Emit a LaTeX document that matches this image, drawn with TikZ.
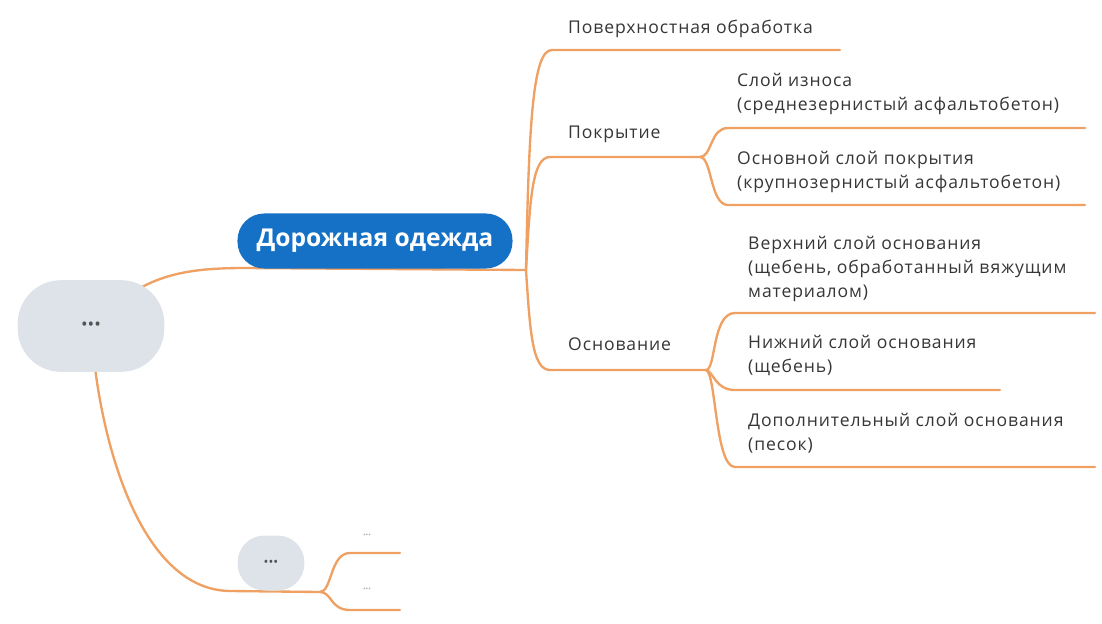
\documentclass[tikz,border=0pt]{standalone}
\usepackage{fontspec}
\setmainfont{Open Sans}
\usetikzlibrary{positioning,backgrounds}
\definecolor{branch}{HTML}{EFA063}
\definecolor{topicblue}{HTML}{1571C6}
\definecolor{bubble}{HTML}{DEE2E9}
\definecolor{ink}{HTML}{363636}
\definecolor{faint}{HTML}{A8A8A8}

\begin{document}
\begin{tikzpicture}[x=0.03cm,y=-0.03cm,
  link/.style={draw=branch,line width=2pt,line cap=round},
  leaf/.style={anchor=north west,inner sep=0pt,align=left,text=ink,font=\fontsize{15}{20.5}\selectfont\addfontfeatures{LetterSpace=5}},
  bubblebox/.style={fill=bubble,text=ink!85},
  topic/.style={fill=topicblue,text=white,rounded corners=0.8cm,minimum width=8.25cm,minimum height=1.65cm,font=\fontsize{21}{24}\selectfont\bfseries}
]
  \useasboundingbox (0,0) rectangle (1102,624);
  % central and side topics
  \node[bubblebox,minimum width=4.4cm,minimum height=2.75cm,rounded corners=1.3cm,font=\fontsize{15}{16}\selectfont] (root) at (91,326) {\textbullet\textbullet\textbullet};
  \node[topic] (cloth) at (375,241) {Дорожная одежда};
  \node[bubblebox,minimum width=2cm,minimum height=1.65cm,rounded corners=0.8cm,font=\fontsize{11}{12}\selectfont] (side) at (271,563) {\textbullet\textbullet\textbullet};
  % branch labels
  \node[leaf] (surf) at (568,20) {Поверхностная обработка};
  \node[leaf] (cover) at (568,126) {Покрытие};
  \node[leaf] (base) at (568,338) {Основание};
  \node[leaf] (wear) at (737,73) {Слой износа\\(среднезернистый асфальтобетон)};
  \node[leaf] (mainlayer) at (737,151) {Основной слой покрытия\\(крупнозернистый асфальтобетон)};
  \node[leaf] (upper) at (748,236) {Верхний слой основания\\(щебень, обработанный вяжущим\\материалом)};
  \node[leaf] (lower) at (748,335) {Нижний слой основания\\(щебень)};
  \node[leaf] (extra) at (748,413) {Дополнительный слой основания\\(песок)};
  \node[text=faint,font=\fontsize{6}{7}\selectfont] (dotsA) at (367,536) {\textbullet\textbullet\textbullet};
  \node[text=faint,font=\fontsize{6}{7}\selectfont] (dotsB) at (367,590) {\textbullet\textbullet\textbullet};
  % joints
  \coordinate (hub) at (526,270);
  \coordinate (hubA) at (700,157);
  \coordinate (hubB) at (706,370);
  \coordinate (low) at (320,592);
  \begin{scope}[on background layer]
    \draw[link] (root.center) .. controls (140,278) and (175,268) .. (245,268) -- (hub);
    \draw[link] (root.center) .. controls (98,440) and (140,590) .. (230,591) -- (low);
    \draw[link] (hub) .. controls (529,120) and (533,50) .. (552,50) -- (840,50);
    \draw[link] (hub) .. controls (530,200) and (532,157) .. (550,157) -- (hubA);
    \draw[link] (hub) .. controls (530,330) and (532,370) .. (550,370) -- (hubB);
    \draw[link] (hubA) .. controls (712,157) and (710,128) .. (728,128) -- (1085,128);
    \draw[link] (hubA) .. controls (712,157) and (710,205) .. (728,205) -- (1085,205);
    \draw[link] (hubB) .. controls (716,370) and (712,313) .. (735,313) -- (1095,313);
    \draw[link] (hubB) .. controls (714,372) and (715,390) .. (735,390) -- (1000,390);
    \draw[link] (hubB) .. controls (716,372) and (715,467) .. (735,467) -- (1095,467);
    \draw[link] (low) .. controls (332,592) and (330,553) .. (350,553) -- (400,553);
    \draw[link] (low) .. controls (332,592) and (330,610) .. (350,610) -- (400,610);
  \end{scope}
\end{tikzpicture}
\end{document}
